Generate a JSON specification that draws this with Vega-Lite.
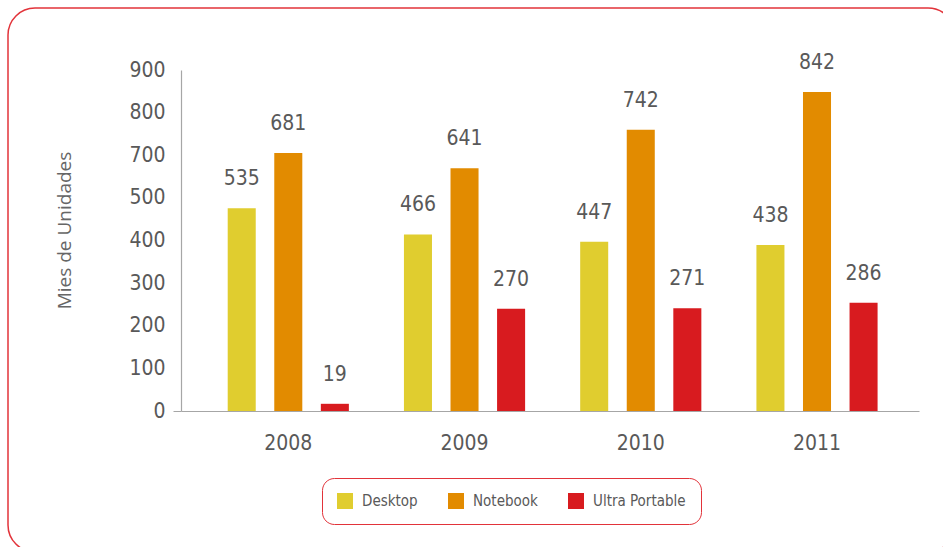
{
  "$schema": "https://vega.github.io/schema/vega-lite/v6.json",
  "width": 947,
  "height": 544,
  "autosize": {"type": "none"},
  "padding": {"left": 8, "top": 8, "right": -12, "bottom": -5},
  "background": "white",
  "config": {
    "view": {"stroke": "#e2333a", "strokeWidth": 1.5, "cornerRadius": 27},
    "font": "DejaVu Sans Condensed, Roboto"
  },
  "data": {
    "values": [
      {"year": "2008", "type": "Desktop", "value": 535},
      {"year": "2008", "type": "Notebook", "value": 681},
      {"year": "2008", "type": "Ultra Portable", "value": 19},
      {"year": "2009", "type": "Desktop", "value": 466},
      {"year": "2009", "type": "Notebook", "value": 641},
      {"year": "2009", "type": "Ultra Portable", "value": 270},
      {"year": "2010", "type": "Desktop", "value": 447},
      {"year": "2010", "type": "Notebook", "value": 742},
      {"year": "2010", "type": "Ultra Portable", "value": 271},
      {"year": "2011", "type": "Desktop", "value": 438},
      {"year": "2011", "type": "Notebook", "value": 842},
      {"year": "2011", "type": "Ultra Portable", "value": 286}
    ]
  },
  "encoding": {
    "x": {
      "field": "year",
      "type": "nominal",
      "scale": {"range": [173, 911], "paddingInner": 0.3125, "paddingOuter": 0.25, "align": 0.53},
      "axis": {
        "orient": "bottom",
        "offset": -141,
        "title": null,
        "labelAngle": 0,
        "ticks": false,
        "labelFontSize": 21,
        "labelColor": "#595959",
        "labelPadding": 21,
        "domainColor": "#a6a6a6",
        "domainWidth": 1.2
      }
    },
    "xOffset": {
      "field": "type",
      "type": "nominal",
      "sort": ["Desktop", "Notebook", "Ultra Portable"],
      "scale": {"paddingInner": 0.398, "paddingOuter": 0}
    },
    "y": {
      "field": "value",
      "type": "quantitative",
      "scale": {"domain": [0, 900], "range": [403, 62], "nice": false},
      "axis": {
        "offset": -173,
        "values": [0, 112.5, 225, 337.5, 450, 562.5, 675, 787.5, 900],
        "labelExpr": "['0','100','200','300','400','500','700','800','900'][round(datum.value/112.5)]",
        "grid": false,
        "tickSize": 8,
        "tickColor": "#a6a6a6",
        "tickOpacity": {"condition": {"test": "datum.value === 0", "value": 1}, "value": 0},
        "labelPadding": 8,
        "labelFontSize": 21,
        "labelColor": "#595959",
        "labelFlush": false,
        "labelOverlap": false,
        "domainColor": "#a6a6a6",
        "domainWidth": 1.2,
        "title": "Mies de Unidades",
        "titleFont": "Open Sans",
        "titleFontSize": 19,
        "titleFontWeight": "normal",
        "titleColor": "#666666",
        "titlePadding": 54,
        "titleY": 222
      }
    }
  },
  "layer": [
    {
      "mark": {"type": "bar"},
      "encoding": {
        "color": {
          "field": "type",
          "type": "nominal",
          "sort": ["Desktop", "Notebook", "Ultra Portable"],
          "scale": {"domain": ["Desktop", "Notebook", "Ultra Portable"], "range": ["#e0cd2f", "#e28b00", "#d81b1f"]},
          "legend": {
            "orient": "none",
            "legendX": 314,
            "legendY": 470,
            "direction": "horizontal",
            "title": null,
            "symbolType": "square",
            "symbolSize": 256,
            "symbolStrokeWidth": 0,
            "symbolOpacity": 1,
            "labelFontSize": 15,
            "labelColor": "#595959",
            "labelOffset": 9,
            "columnPadding": 30,
            "padding": 15,
            "strokeColor": "#e2333a",
            "cornerRadius": 12,
            "fillColor": "white"
          }
        }
      }
    },
    {
      "mark": {"type": "text", "dy": -23, "baseline": "alphabetic", "fontSize": 21, "color": "#595959"},
      "encoding": {"text": {"field": "value", "type": "quantitative"}}
    }
  ]
}
